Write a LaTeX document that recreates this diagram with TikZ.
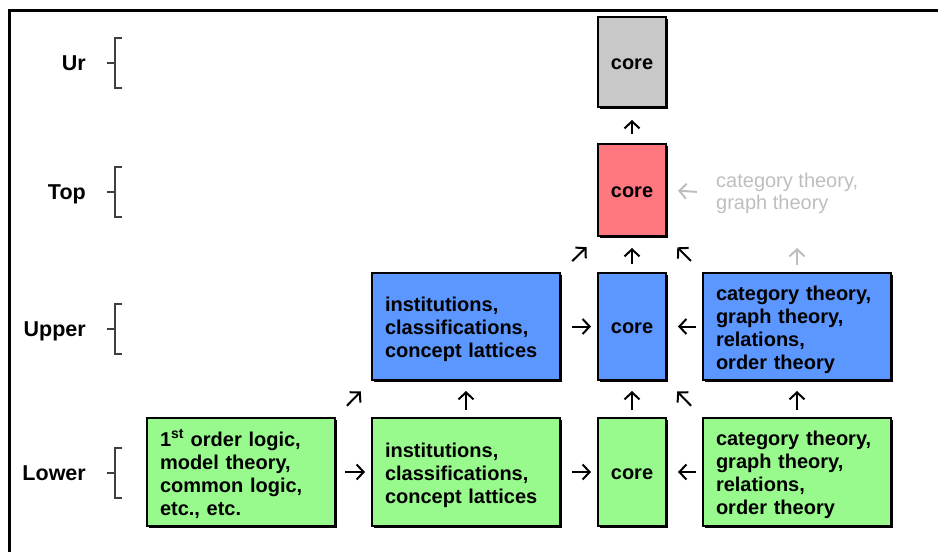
\documentclass[tikz,border=0pt]{standalone}
\usepackage{fontspec}
\setmainfont{Liberation Sans}
\usetikzlibrary{arrows.meta,shadows}
\definecolor{lowgreen}{RGB}{152,250,140}
\definecolor{upblue}{RGB}{92,150,255}
\definecolor{toppink}{RGB}{255,120,128}
\definecolor{urgray}{RGB}{200,200,200}
\definecolor{faint}{RGB}{190,190,190}
% extra room above the first line of a box text
\newcommand\firstlinestrut{\rule{0pt}{20.5pt}}
\tikzset{
  box/.style={draw=black, line width=1.4pt, rectangle, outer sep=0pt, inner ysep=0pt,
    general shadow={fill=black, shadow xshift=2pt, shadow yshift=-2pt},
    font=\fontsize{20}{23}\selectfont\bfseries},
  widebox/.style={box, inner xsep=13pt, text width=162pt, align=left, minimum width=188pt,
    execute at begin node=\firstlinestrut},
  corebox/.style={box, inner xsep=0pt, minimum width=68pt, text height=14pt, text depth=0pt},
  lvl/.style={anchor=base east, inner sep=0pt, font=\fontsize{21.5}{24}\selectfont\bfseries},
  arr/.style={line width=2pt, -{Straight Barb[length=7pt,width=15pt]}},
  farr/.style={arr, draw=faint},
  brk/.style={line width=1.2pt, draw=black!75}
}
\begin{document}
\begin{tikzpicture}[x=1pt,y=-1pt]
\useasboundingbox (0,0) rectangle (938,552);
% frame
\draw[line width=3pt] (938,10) -- (9.5,10) -- (9.5,552);

% level labels with brackets
\foreach \lab/\yc in {Ur/63, Top/192, Upper/329, Lower/473}{
  \node[lvl] (lab\lab) at (86,\yc+7.5) {\lab};
  \draw[brk] (122,\yc-25) -- (115,\yc-25) -- (115,\yc+25) -- (122,\yc+25);
  \draw[brk] (107,\yc) -- (115,\yc);
}

% lower row
\node[widebox, fill=lowgreen, minimum height=108pt] (lfol) at (241,472)
  {1\textsuperscript{st} order logic,\\model theory,\\common logic,\\etc., etc.};
\node[widebox, fill=lowgreen, minimum height=108pt] (linst) at (466,472)
  {institutions,\\classifications,\\concept lattices};
\node[corebox, fill=lowgreen, minimum height=108pt] (lcore) at (632,472) {core};
\node[widebox, fill=lowgreen, minimum height=108pt] (lcat) at (797,472)
  {category theory,\\graph theory,\\relations,\\order theory};

% upper row
\node[widebox, fill=upblue, minimum height=107pt] (uinst) at (466,326.5)
  {institutions,\\classifications,\\concept lattices};
\node[corebox, fill=upblue, minimum height=107pt] (ucore) at (632,326.5) {core};
\node[widebox, fill=upblue, minimum height=107pt] (ucat) at (797,326.5)
  {category theory,\\graph theory,\\relations,\\order theory};

% top and ur
\node[corebox, fill=toppink, minimum height=92pt] (tcore) at (632,190) {core};
\node[corebox, fill=urgray, minimum height=90pt] (urcore) at (632,62) {core};
\node[anchor=west, inner sep=0pt, align=left, text=faint,
  font=\fontsize{20}{22}\selectfont] (tcat) at (716,193) {category theory,\\graph theory};
\coordinate (tcatb) at (797,222);

% horizontal arrows
\draw[arr, shorten <=10pt, shorten >=7pt] (lfol.east) -- (linst.west);
\draw[arr, shorten <=12pt, shorten >=7pt] (linst.east) -- (lcore.west);
\draw[arr, shorten <=7pt, shorten >=12pt] (lcat.west) -- (lcore.east);
\draw[arr, shorten <=12pt, shorten >=7pt] (uinst.east) -- (ucore.west);
\draw[arr, shorten <=7pt, shorten >=12pt] (ucat.west) -- (ucore.east);
\draw[farr, shorten <=19pt, shorten >=12pt] (tcat.west) -- (tcore.east);

% vertical arrows
\draw[arr, shorten <=8pt, shorten >=11pt] (linst.north) -- (uinst.south);
\draw[arr, shorten <=8pt, shorten >=11pt] (lcore.north) -- (ucore.south);
\draw[arr, shorten <=8pt, shorten >=11pt] (lcat.north) -- (ucat.south);
\draw[arr, shorten <=9pt, shorten >=12pt] (ucore.north) -- (tcore.south);
\draw[arr, shorten <=10pt, shorten >=13pt] (tcore.north) -- (urcore.south);
\draw[farr, shorten <=8pt, shorten >=26pt] (ucat.north) -- (tcatb);

% diagonal arrows
\draw[arr, shorten <=17pt, shorten >=16pt] (lfol.north east) -- (uinst.south west);
\draw[arr, shorten <=17pt, shorten >=16pt] (lcat.north west) -- (ucore.south east);
\draw[arr, shorten <=17pt, shorten >=16pt] (uinst.north east) -- (tcore.south west);
\draw[arr, shorten <=17pt, shorten >=16pt] (ucat.north west) -- (tcore.south east);
\end{tikzpicture}
\end{document}
